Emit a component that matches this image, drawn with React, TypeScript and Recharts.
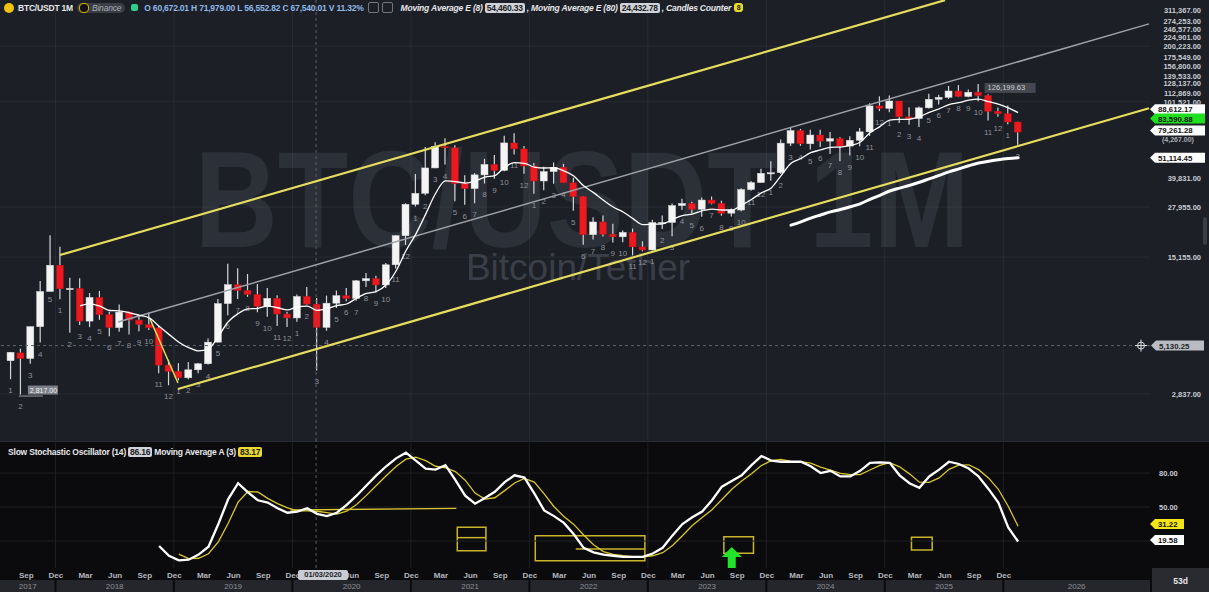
import React from "react";
import {
  ComposedChart,
  Bar,
  Line,
  XAxis,
  YAxis,
  ReferenceLine,
  ReferenceDot,
  ReferenceArea,
} from "recharts";

// monthly candles, first one is Aug 2017
const FIRST_YEAR = 2017;
const FIRST_MONTH = 8;

const OPEN = [
  4261, 4690, 4378, 6463, 9947, 13716, 10285, 10326, 6922, 9246,
  7485, 6391, 7730, 7011, 6626, 6370, 4041, 3742, 3458, 3813,
  4105, 5350, 8574, 10817, 10086, 9600, 8293, 9150, 7546, 7195,
  9352, 8523, 6410, 8620, 9448, 9138, 11335, 11650, 10776, 13791,
  19695, 28923, 33092, 45135, 58740, 57697, 37254, 35045, 41461, 47100,
  43820, 61300, 56950, 46217, 38466, 43160, 45510, 37630, 31801, 19942,
  23296, 20048, 19423, 20491, 17165, 16541, 23125, 23141, 28466, 29233,
  27210, 30472, 29232, 25941, 26962, 34640, 37724, 42283, 42580, 61131,
  71280, 60672, 67540, 62678, 64628, 58974, 63327, 70215, 96408, 93576,
  102430, 84350, 82550, 94172, 104591, 107135, 115764, 108246, 114049, 109608,
  90360, 87650, 79200,
];
const HIGH = [
  4745, 4939, 6470, 11300, 19798, 17176, 11786, 11710, 9759, 10020,
  7760, 8491, 7750, 7410, 7680, 6540, 4312, 4140, 4198, 4140,
  5600, 9074, 13970, 13200, 12325, 10905, 10370, 9510, 7750, 9578,
  10500, 9188, 9460, 10067, 10380, 11444, 12468, 12067, 14100, 19863,
  29300, 41950, 58352, 61844, 64854, 59592, 41330, 42448, 50500, 52920,
  67000, 69000, 59053, 47990, 45821, 48189, 47444, 39980, 31986, 24668,
  25211, 22799, 20988, 21480, 18387, 23960, 25250, 29184, 31000, 29820,
  31431, 31804, 30244, 27483, 35198, 38450, 44700, 48970, 64000, 73777,
  72797, 71979, 71997, 70080, 65660, 66498, 73620, 99588, 108353, 109588,
  102500, 95000, 95750, 111980, 110530, 123218, 124474, 117900, 126199, 111190,
  94600, 97000, 79400,
];
const LOW = [
  3400, 2817, 4110, 5325, 10400, 9035, 6000, 6600, 6430, 7032,
  5750, 6070, 5880, 6111, 6205, 3652, 3156, 3349, 3400, 3659,
  4067, 5333, 7440, 9072, 9320, 7710, 7300, 6515, 6435, 6871,
  8445, 3782, 6150, 8117, 8833, 8893, 10518, 9825, 10374, 13195,
  17572, 28130, 32296, 45000, 47044, 30000, 28805, 29278, 37332, 39600,
  43283, 53256, 42000, 32917, 34322, 37155, 37578, 26700, 17622, 18781,
  19520, 18125, 18190, 15476, 16256, 16500, 21351, 19549, 26942, 25811,
  24800, 28861, 25166, 24901, 26538, 34097, 37629, 38555, 41884, 59005,
  59191, 56552, 58402, 53485, 49000, 52550, 58864, 66835, 90500, 89256,
  78258, 76606, 74508, 93377, 98200, 105100, 107350, 107255, 102000, 80600,
  84400, 77000, 60000,
];
const CLOSE = [
  4724, 4378, 6463, 9947, 13716, 10285, 10326, 6923, 9246, 7485,
  6390, 7730, 7011, 6626, 6371, 4041, 3742, 3458, 3813, 4105,
  5350, 8574, 10817, 10086, 9600, 8293, 9150, 7546, 7195, 9352,
  8523, 6410, 8620, 9448, 9138, 11335, 11650, 10776, 13791, 19695,
  28923, 33092, 45135, 58740, 57694, 37253, 35045, 41461, 47100, 43824,
  61299, 56950, 46216, 38466, 43160, 45510, 37630, 31801, 19942, 23293,
  20050, 19422, 20491, 17164, 16542, 23125, 23141, 28465, 29233, 27210,
  30472, 29232, 25941, 26962, 34639, 37723, 42284, 42580, 61130, 71280,
  60672, 67540, 62678, 64628, 58974, 63327, 70215, 96408, 93576, 102430,
  84350, 82550, 94172, 104591, 107135, 115764, 108246, 114048, 109608, 90360,
  87650, 79200, 70000,
];

// moving average E (8), shown from the 8th candle
const EMA8_FROM = 7;
const EMA8 = [
  8345, 8545, 8309, 7883, 7849, 7663, 7433, 7197, 6496, 5884,
  5345, 5005, 4805, 4926, 5737, 6866, 7582, 8030, 8088, 8324,
  8151, 7939, 8253, 8313, 7890, 8052, 8362, 8534, 9156, 9710,
  9947, 10801, 12777, 16365, 20082, 25649, 33002, 38489, 38214, 37510,
  38388, 40324, 41102, 45590, 48114, 47692, 45642, 45091, 45184, 43505,
  40904, 36246, 33368, 30409, 27968, 26307, 24275, 22557, 22683, 22785,
  24047, 25199, 25646, 26718, 27277, 26980, 26976, 28679, 30689, 33266,
  35336, 41068, 47781, 50645, 54399, 56239, 58103, 58297, 59415, 61815,
  69502, 74851, 80979, 81728, 81911, 84635, 89069, 93083, 98123, 100372,
  103411, 104788, 101582, 98486, 94201, 88823,
];
// moving average E (80), shown from the 80th candle
const EMA80_FROM = 79;
const EMA80 = [
  22400, 23345, 24436, 25380, 26349, 27154, 28047, 29088, 30750, 32301,
  34032, 35274, 36441, 37866, 39513, 41183, 43024, 44634, 46348, 47910,
  48958, 49913, 50636, 51114,
];

// slow stochastic (14) and its MA (3)
const STOCH_K_FROM = 15;
const STOCH_K = [
  15.6, 7, 3, 3.5, 8, 15, 35, 57, 71, 63,
  56, 54, 49, 45, 46, 49, 44, 42, 45, 52,
  60, 69, 78, 86, 93, 98, 91, 84, 83, 87,
  74, 60, 53, 58, 63.5, 72, 78, 76, 62, 47,
  42, 36, 26, 14, 10, 8, 7, 6, 6, 6,
  9, 14, 25, 35, 41, 46, 56, 68, 73, 78,
  87, 95, 91, 90, 90, 90, 86, 80, 82, 77,
  77, 82, 89, 89.5, 89, 78, 71, 67, 77, 83,
  90, 88, 84, 77, 66, 54, 32, 19.58,
];
const STOCH_D_FROM = 17;
const STOCH_D = [
  8.5, 4.5, 4.8, 8.8, 19.3, 35.7, 54.3, 63.7,
  63.3, 57.7, 53, 49.3, 46.7, 46.7, 46.3, 45, 43.7, 46.3,
  52.3, 60.3, 69, 77.7, 85.7, 92.3, 94, 91, 86, 84.7,
  81.3, 73.7, 62.3, 57, 58.2, 64.5, 71.2, 75.3, 72, 61.7,
  50.3, 41.7, 34.7, 25.3, 16.7, 10.7, 8.3, 7, 6.3, 6,
  7, 9.7, 16, 24.7, 33.7, 40.7, 47.7, 56.7, 65.7, 73,
  79.3, 86.7, 91, 92, 90.3, 90, 88.7, 85.3, 82.7, 79.7,
  78.7, 78.7, 82.7, 86.8, 89.2, 85.5, 79.3, 72, 71.7, 75.7,
  83.3, 87, 87.3, 83, 75.7, 65.7, 50.7, 33,
];

const PRICE_TICKS = [
  311367, 274253, 246577, 224901, 200223, 175549, 156800, 139533, 128137,
  112869, 101521, 39831, 27955, 15155, 2837,
];
const PRICE_GRID = [2837, 15155, 27955, 101521, 200223];
const OSC_TICKS = [50, 80];
const OSC_GRID = [20, 50, 80];
const MONTH_NAMES = ["Jan", "Feb", "Mar", "Apr", "May", "Jun", "Jul", "Aug", "Sep", "Oct", "Nov", "Dec"];
const LABEL_MONTHS = [3, 6, 9, 12];

const X_MIN = -1.114;
const X_MAX = 115.36;
const P_MIN = 1595;
const P_MAX = 352700;
const OSC_MIN = -3.8;
const OSC_MAX = 108.3;

const rows = OPEN.map((o, i) => {
  const m0 = FIRST_MONTH - 1 + i;
  const year = FIRST_YEAR + Math.floor(m0 / 12);
  const month = (m0 % 12) + 1;
  return {
    i,
    year,
    month,
    o,
    h: HIGH[i],
    l: LOW[i],
    c: CLOSE[i],
    range: [LOW[i], HIGH[i]],
    count: year === FIRST_YEAR ? i + 1 : month,
    ema8: i >= EMA8_FROM ? EMA8[i - EMA8_FROM] : null,
    ema80: i >= EMA80_FROM ? EMA80[i - EMA80_FROM] : null,
    k: i >= STOCH_K_FROM ? STOCH_K[i - STOCH_K_FROM] : null,
    d: i >= STOCH_D_FROM ? STOCH_D[i - STOCH_D_FROM] : null,
  };
});

const monthTicks = rows.filter((r) => LABEL_MONTHS.includes(r.month)).map((r) => r.i + 0.55);
const yearBounds = rows.filter((r) => r.month === 1).map((r) => r.i - 0.5);
const yearEdges = [X_MIN, ...yearBounds, X_MAX];
const yearCenters = yearEdges.slice(0, -1).map((e, k) => (e + yearEdges[k + 1]) / 2);
const yearTicks = [...yearBounds, ...yearCenters].sort((a, b) => a - b);

const fmt2 = (v: number) => v.toLocaleString("en-US", { minimumFractionDigits: 2, maximumFractionDigits: 2 });

const FONT = "'Liberation Sans', Arial, sans-serif";
const YELLOW = "#e6dc5e";

function Candle(props: any) {
  const r = props.payload && props.payload.o ? props.payload : rows[props.index];
  const { x, y, width, height } = props;
  if (!r || x == null) return null;
  const cx = x + width / 2;
  const yTop = Math.min(y, y + height);
  const yBot = Math.max(y, y + height);
  const lnH = Math.log(r.h);
  const lnL = Math.log(r.l);
  const toY = (v: number) => (lnH === lnL ? yTop : yBot - ((Math.log(v) - lnL) / (lnH - lnL)) * (yBot - yTop));
  const yo = toY(r.o);
  const yc = toY(r.c);
  const up = r.c >= r.o;
  const bt = Math.min(yo, yc);
  const bh = Math.max(1.2, Math.abs(yo - yc));
  return (
    <g>
      <line x1={cx} x2={cx} y1={yTop} y2={yBot} stroke="#d4d6db" strokeWidth={1.2} />
      <rect x={cx - 3.5} y={bt} width={7} height={bh} fill={up ? "#f4f4f4" : "#ec1a1f"} stroke={up ? "#d8d8d8" : "#b01015"} strokeWidth={0.5} />
      <text x={cx} y={yBot + 14} fontSize={8} fill="#8d9098" textAnchor="middle" fontFamily={FONT}>
        {r.count}
      </text>
    </g>
  );
}

function PriceTick(props: any) {
  const { y, payload } = props;
  return (
    <text x={1201} y={y + 3} textAnchor="end" fontSize={7.5} fontWeight={700} fill="#c9ccd3" fontFamily={FONT}>
      {fmt2(payload.value)}
    </text>
  );
}

function OscTick(props: any) {
  const { y, payload } = props;
  return (
    <text x={1159} y={y + 3} fontSize={7.5} fontWeight={700} fill="#c9ccd3" fontFamily={FONT}>
      {fmt2(payload.value)}
    </text>
  );
}

function MonthTick(props: any) {
  const { x, y, payload } = props;
  const r = rows[Math.round(payload.value - 0.55)];
  if (!r) return null;
  return (
    <text x={x} y={y + 10} textAnchor="middle" fontSize={8} fontWeight={700} fill="#b4b7be" fontFamily={FONT}>
      {MONTH_NAMES[r.month - 1]}
    </text>
  );
}

function YearTick(props: any) {
  const { x, y, payload } = props;
  const v = payload.value;
  if (yearBounds.some((b) => Math.abs(b - v) < 1e-6)) {
    return <line x1={x} x2={x} y1={y} y2={y + 12} stroke="#0b0b0d" strokeWidth={2} />;
  }
  const k = yearCenters.findIndex((c) => Math.abs(c - v) < 1e-6);
  return (
    <text x={x} y={y + 9} textAnchor="middle" fontSize={8} fill="#8c8f97" fontFamily={FONT}>
      {FIRST_YEAR + k}
    </text>
  );
}

function tagShape(text: string, bg: string, fg: string, dy: number, w = 55) {
  return (p: any) => {
    const x0 = p.cx;
    const cy = p.cy + dy;
    const hh = 5;
    return (
      <g>
        <polygon
          points={`${x0},${cy} ${x0 + 5},${cy - hh} ${x0 + w},${cy - hh} ${x0 + w},${cy + hh} ${x0 + 5},${cy + hh}`}
          fill={bg}
        />
        <text x={x0 + 8} y={cy + 3} fontSize={7.8} fontWeight={700} fill={fg} fontFamily={FONT}>
          {text}
        </text>
      </g>
    );
  };
}

function crossTag(p: any) {
  const x0 = p.cx;
  const cy = p.cy;
  return (
    <g>
      <circle cx={x0 - 9} cy={cy} r={3.5} fill="none" stroke="#e0e0e0" strokeWidth={1} />
      <line x1={x0 - 15} x2={x0 - 3} y1={cy} y2={cy} stroke="#e0e0e0" strokeWidth={1} />
      <line x1={x0 - 9} x2={x0 - 9} y1={cy - 6} y2={cy + 6} stroke="#e0e0e0" strokeWidth={1} />
      <polygon
        points={`${x0 + 1},${cy} ${x0 + 6},${cy - 5} ${x0 + 54},${cy - 5} ${x0 + 54},${cy + 5} ${x0 + 6},${cy + 5}`}
        fill="#b9bcc3"
      />
      <text x={x0 + 9} y={cy + 3} fontSize={7.8} fontWeight={700} fill="#1c1f26" fontFamily={FONT}>
        5,130.25
      </text>
    </g>
  );
}

function athLabel(p: any) {
  return (
    <g>
      <rect x={p.cx + 6} y={p.cy - 1} width={51} height={10} fill="#454850" />
      <text x={p.cx + 9} y={p.cy + 6.5} fontSize={7.5} fill="#c9ccd3" fontFamily={FONT}>
        126,199.63
      </text>
    </g>
  );
}

function lowLabel(p: any) {
  return (
    <g>
      <line x1={p.cx - 2} x2={p.cx + 22} y1={p.cy + 1.5} y2={p.cy + 1.5} stroke="#9a9da5" strokeWidth={1} />
      <rect x={p.cx + 7} y={p.cy - 9} width={30} height={9} fill="#7d8088" />
      <text x={p.cx + 9} y={p.cy - 2} fontSize={7} fill="#f0f0f0" fontFamily={FONT}>
        2,817.00
      </text>
    </g>
  );
}

function upArrow(p: any) {
  const { cx, cy } = p;
  return (
    <polygon
      points={`${cx},${cy - 11} ${cx + 10},${cy - 1} ${cx + 4},${cy - 1} ${cx + 4},${cy + 10} ${cx - 4},${cy + 10} ${cx - 4},${cy - 1} ${cx - 10},${cy - 1}`}
      fill="#22e32a"
    />
  );
}

const box = (txt: string, bg: string, fg: string) => (
  <span style={{ background: bg, color: fg, borderRadius: 2, padding: "0 2px", margin: "0 2px", fontStyle: "normal" }}>{txt}</span>
);

export default function App() {
  return (
    <div
      style={{
        position: "absolute",
        left: 0,
        top: 0,
        width: 1209,
        height: 592,
        background: "#0b0b0d",
        overflow: "hidden",
        fontFamily: FONT,
      }}
    >
      <div style={{ position: "absolute", left: 0, top: 0, width: 1209, height: 441, background: "#1c1f26" }} />
      <svg style={{ position: "absolute", left: 0, top: 0 }} width={1150} height={441}>
        <text
          x={582}
          y={247}
          textAnchor="middle"
          fontSize={137}
          fontWeight={700}
          fill="#2c3038"
          textLength={775}
          lengthAdjust="spacingAndGlyphs"
          fontFamily={FONT}
        >
          BTC/USDT 1M
        </text>
        <text x={578} y={280} textAnchor="middle" fontSize={37} fill="#3a3e48" fontFamily={FONT}>
          Bitcoin/Tether
        </text>
      </svg>
      <div style={{ position: "absolute", left: 1203, top: 217, width: 4, height: 28, background: "#3a3d45", borderRadius: 2 }} />
      <div style={{ position: "absolute", left: 0, top: 441, width: 1209, height: 1, background: "#2a2c32" }} />
      <div style={{ position: "absolute", left: 0, top: 580, width: 1150, height: 12, background: "#25262b" }} />

      <div style={{ position: "absolute", left: 0, top: 0 }}>
        <ComposedChart width={1209} height={441} data={rows} margin={{ top: 0, right: 0, bottom: 0, left: 0 }}>
          <XAxis dataKey="i" type="number" domain={[X_MIN, X_MAX]} allowDataOverflow hide />
          <YAxis
            orientation="right"
            scale="log"
            domain={[P_MIN, P_MAX]}
            allowDataOverflow
            ticks={PRICE_TICKS}
            interval={0}
            width={59}
            axisLine={false}
            tickLine={false}
            tick={<PriceTick />}
          />
          {PRICE_GRID.map((v) => (
            <ReferenceLine key={"pg" + v} y={v} stroke="rgba(255,255,255,0.05)" ifOverflow="visible" />
          ))}
          {yearBounds.map((v) => (
            <ReferenceLine key={"vg" + v} x={v} stroke="rgba(255,255,255,0.06)" ifOverflow="visible" />
          ))}
          <ReferenceLine x={30.9} stroke="#5d6069" strokeDasharray="3 3" ifOverflow="visible" />
          <ReferenceLine y={5130.25} stroke="#5d6069" strokeDasharray="3 3" ifOverflow="visible" />
          <ReferenceLine
            segment={[{ x: 4.96, y: 15540 }, { x: 94.6, y: 352000 }]}
            stroke={YELLOW}
            strokeWidth={2.2}
            ifOverflow="visible"
          />
          <ReferenceLine
            segment={[{ x: 16.91, y: 3013 }, { x: 115.26, y: 93800 }]}
            stroke={YELLOW}
            strokeWidth={2.2}
            ifOverflow="visible"
          />
          <ReferenceLine
            segment={[{ x: 10.84, y: 6840 }, { x: 115.26, y: 263300 }]}
            stroke="#9ea1a8"
            strokeWidth={1.5}
            ifOverflow="visible"
          />
          <ReferenceLine
            segment={[{ x: 14.08, y: 7107 }, { x: 16.91, y: 3243 }]}
            stroke={YELLOW}
            strokeWidth={1.5}
            ifOverflow="visible"
          />
          <Bar dataKey="range" barSize={7} shape={<Candle />} isAnimationActive={false} />
          <Line dataKey="ema8" type="monotone" stroke="#ffffff" strokeWidth={1.3} dot={false} isAnimationActive={false} />
          <Line
            dataKey="ema80"
            type="monotone"
            stroke="#ffffff"
            strokeWidth={3}
            strokeLinecap="round"
            dot={false}
            isAnimationActive={false}
          />
          <ReferenceDot x={98} y={126199.63} ifOverflow="visible" shape={athLabel} />
          <ReferenceDot x={1} y={2817} ifOverflow="visible" shape={lowLabel} />
          <ReferenceDot x={X_MAX} y={88612.17} ifOverflow="visible" shape={tagShape("88,612.17", "#ffffff", "#111", -3.5)} />
          <ReferenceDot x={X_MAX} y={83590.88} ifOverflow="visible" shape={tagShape("83,590.88", "#1fe01f", "#111", 1)} />
          <ReferenceDot x={X_MAX} y={79261.28} ifOverflow="visible" shape={tagShape("79,261.28", "#ffffff", "#111", 8.5)} />
          <ReferenceDot x={X_MAX} y={51114.45} ifOverflow="visible" shape={tagShape("51,114.45", "#ffffff", "#111", 0)} />
          <ReferenceDot x={X_MAX} y={5130.25} ifOverflow="visible" shape={crossTag} />
        </ComposedChart>
      </div>

      <div
        style={{
          position: "absolute",
          left: 1162,
          top: 136,
          fontSize: 7,
          color: "#a9acb3",
          fontWeight: 700,
        }}
      >
        (4,267.00)
      </div>

      {/* legend row */}
      <div
        style={{
          position: "absolute",
          left: 4,
          top: 2,
          height: 11,
          display: "flex",
          alignItems: "center",
          fontSize: 8.5,
          fontWeight: 700,
          color: "#e6e7ea",
          whiteSpace: "nowrap",
          letterSpacing: -0.2,
        }}
      >
        <span style={{ width: 10, height: 10, borderRadius: 5, background: "#f3c10f", marginRight: 4 }} />
        <span>BTC/USDT 1M</span>
        <span
          style={{
            marginLeft: 4,
            background: "#3a3d45",
            borderRadius: 5,
            padding: "0 4px 0 2px",
            display: "flex",
            alignItems: "center",
            color: "#a7aab1",
            fontStyle: "italic",
            fontWeight: 400,
          }}
        >
          <span style={{ width: 8, height: 8, borderRadius: 4, background: "#111", border: "1px solid #d8b400", marginRight: 3 }} />
          Binance
        </span>
        <span style={{ width: 7, height: 7, borderRadius: 2, background: "#2fcf8b", margin: "0 6px" }} />
        <span style={{ color: "#8fb8e6" }}>O 60,672.01 H 71,979.00 L 56,552.82 C 67,540.01 V 11.32%</span>
        <span style={{ width: 9, height: 9, border: "1px solid #777", borderRadius: 2, marginLeft: 4 }} />
        <span style={{ width: 9, height: 9, border: "1px solid #777", borderRadius: 2, marginLeft: 3 }} />
        <span style={{ marginLeft: 8, fontStyle: "italic" }}>Moving Average E (8)</span>
        {box("54,460.33", "#cfd2d8", "#222")}
        <span style={{ fontStyle: "italic" }}>, Moving Average E (80)</span>
        {box("24,432.78", "#cfd2d8", "#222")}
        <span style={{ fontStyle: "italic" }}>, Candles Counter</span>
        <span
          style={{
            marginLeft: 3,
            width: 9,
            height: 9,
            borderRadius: 3,
            background: "#e8dc2a",
            color: "#222",
            fontSize: 7,
            textAlign: "center",
            lineHeight: "9px",
          }}
        >
          8
        </span>
      </div>

      <div style={{ position: "absolute", left: 0, top: 441 }}>
        <ComposedChart width={1209} height={151} data={rows} margin={{ top: 0, right: 0, bottom: 0, left: 0 }}>
          <XAxis
            dataKey="i"
            type="number"
            domain={[X_MIN, X_MAX]}
            allowDataOverflow
            ticks={monthTicks}
            interval={0}
            height={12}
            axisLine={false}
            tickLine={false}
            tickSize={0}
            tickMargin={0}
            tick={<MonthTick />}
          />
          <XAxis
            xAxisId="yr"
            dataKey="i"
            type="number"
            domain={[X_MIN, X_MAX]}
            allowDataOverflow
            ticks={yearTicks}
            interval={0}
            height={12}
            axisLine={false}
            tickLine={false}
            tickSize={0}
            tickMargin={0}
            tick={<YearTick />}
          />
          <YAxis
            orientation="right"
            domain={[OSC_MIN, OSC_MAX]}
            allowDataOverflow
            ticks={OSC_TICKS}
            interval={0}
            width={59}
            axisLine={false}
            tickLine={false}
            tick={<OscTick />}
          />
          {OSC_GRID.map((v) => (
            <ReferenceLine key={"og" + v} y={v} stroke="#1f2024" ifOverflow="visible" />
          ))}
          {yearBounds.map((v) => (
            <ReferenceLine key={"ov" + v} x={v} stroke="#1f2024" ifOverflow="visible" />
          ))}
          <ReferenceLine x={30.9} stroke="#55585f" strokeDasharray="3 3" ifOverflow="visible" />
          <ReferenceLine
            segment={[{ x: 28.3, y: 47.4 }, { x: 45.1, y: 48.9 }]}
            stroke="#d9c630"
            strokeWidth={1.3}
            ifOverflow="visible"
          />
          <ReferenceArea x1={45.2} x2={48.1} y1={11.5} y2={32.1} fill="none" stroke="#c9b52c" strokeWidth={1.5} ifOverflow="visible" />
          <ReferenceLine segment={[{ x: 45.2, y: 23 }, { x: 48.1, y: 23 }]} stroke="#c9b52c" strokeWidth={1.5} ifOverflow="visible" />
          <ReferenceArea x1={53.1} x2={64.2} y1={2.6} y2={24.7} fill="none" stroke="#c9b52c" strokeWidth={1.5} ifOverflow="visible" />
          <ReferenceLine segment={[{ x: 57.2, y: 13 }, { x: 64.2, y: 13 }]} stroke="#c9b52c" strokeWidth={1.5} ifOverflow="visible" />
          <ReferenceArea x1={72.2} x2={75.2} y1={9.2} y2={23.8} fill="none" stroke="#c9b52c" strokeWidth={1.5} ifOverflow="visible" />
          <ReferenceArea x1={91.2} x2={93.3} y1={12.1} y2={23.3} fill="none" stroke="#c9b52c" strokeWidth={1.5} ifOverflow="visible" />
          <Line dataKey="d" type="linear" stroke="#d9c630" strokeWidth={1.3} dot={false} isAnimationActive={false} />
          <Line dataKey="k" type="linear" stroke="#ffffff" strokeWidth={2.3} dot={false} isAnimationActive={false} />
          <ReferenceDot x={73.0} y={5} ifOverflow="visible" shape={upArrow} />
          <ReferenceDot x={X_MAX} y={31.22} ifOverflow="visible" shape={tagShape("31.22", "#f2e418", "#111", -4.3, 34)} />
          <ReferenceDot x={X_MAX} y={19.58} ifOverflow="visible" shape={tagShape("19.58", "#ffffff", "#111", -1.5, 34)} />
        </ComposedChart>
      </div>

      <div
        style={{
          position: "absolute",
          left: 8,
          top: 446,
          height: 11,
          display: "flex",
          alignItems: "center",
          fontSize: 8.5,
          fontWeight: 700,
          color: "#e6e7ea",
          whiteSpace: "nowrap",
          letterSpacing: -0.2,
        }}
      >
        <span>Slow Stochastic Oscillator (14)</span>
        {box("86.16", "#cfd2d8", "#222")}
        <span>Moving Average A (3)</span>
        {box("83.17", "#e8d830", "#222")}
      </div>

      <div
        style={{
          position: "absolute",
          left: 298,
          top: 570,
          width: 50,
          height: 10,
          background: "#c9ccd2",
          borderRadius: 2,
          color: "#1c1f26",
          fontSize: 7.5,
          fontWeight: 700,
          textAlign: "center",
          lineHeight: "10px",
        }}
      >
        01/03/2020
      </div>
      <div
        style={{
          position: "absolute",
          left: 1152,
          top: 568,
          width: 57,
          height: 24,
          background: "#2a2b30",
          color: "#e6e7ea",
          fontSize: 8.5,
          fontWeight: 700,
          textAlign: "center",
          lineHeight: "26px",
        }}
      >
        53d
      </div>
    </div>
  );
}
